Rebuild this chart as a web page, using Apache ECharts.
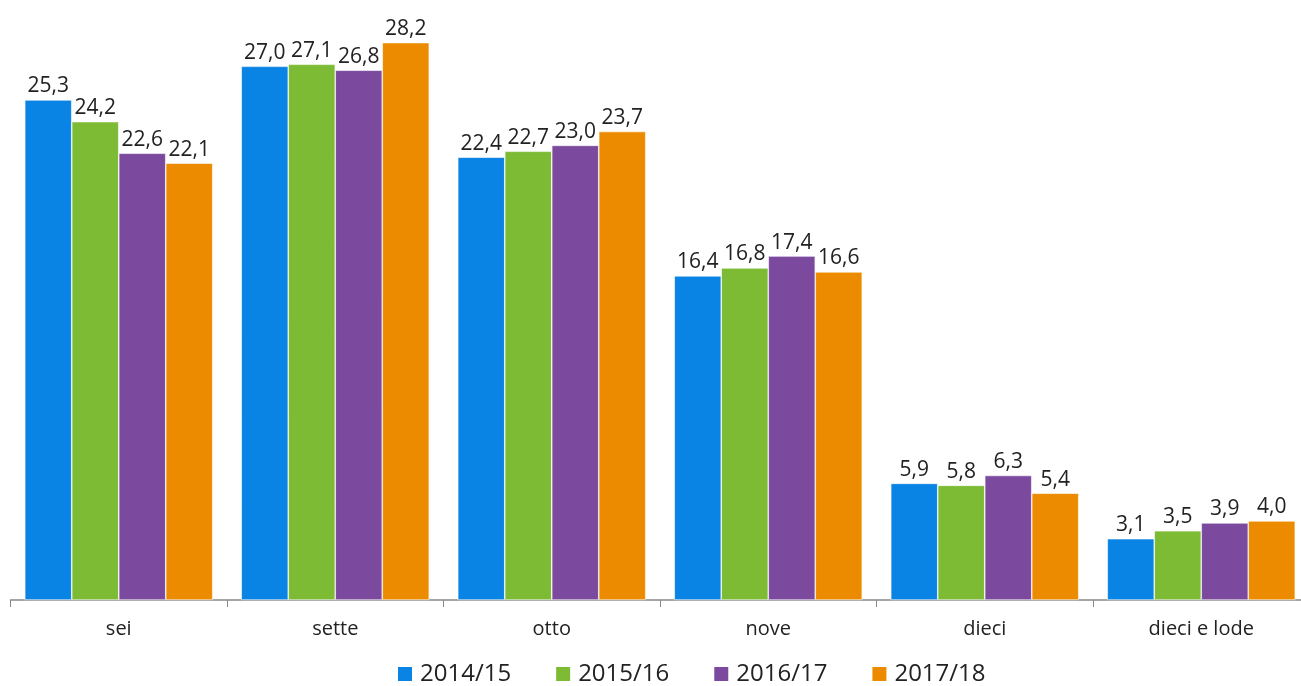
<!DOCTYPE html>
<html>
<head>
<meta charset="utf-8">
<script src="https://cdn.jsdelivr.net/npm/echarts@6/dist/echarts.min.js"></script>
<style>
  html, body { margin: 0; padding: 0; background: #fff; }
  #chart { width: 1301px; height: 686px; }
</style>
</head>
<body>
<div id="chart"></div>
<script>
const categories = ['sei', 'sette', 'otto', 'nove', 'dieci', 'dieci e lode']
const years = ['2014/15', '2015/16', '2016/17', '2017/18']
const v2014 = [25.3, 27.0, 22.4, 16.4, 5.9, 3.1]
const v2015 = [24.2, 27.1, 22.7, 16.8, 5.8, 3.5]
const v2016 = [22.6, 26.8, 23.0, 17.4, 6.3, 3.9]
const v2017 = [22.1, 28.2, 23.7, 16.6, 5.4, 4.0]
const colors = ['#0a84e4', '#7cbb33', '#7b4a9f', '#ec8b00']

const font = 'Open Sans, Noto Sans, sans-serif'
const chart = echarts.init(document.getElementById('chart'))

const makeSeries = (name, data, i) => ({
  name: name,
  type: 'bar',
  data: data,
  barWidth: 47,
  barGap: '0%',
  itemStyle: { color: colors[i], borderColor: '#fff', borderWidth: 0.6 },
  label: {
    show: true,
    position: 'top',
    distance: 3,
    color: '#222',
    fontSize: 21,
    fontFamily: font,
    formatter: p => p.value.toFixed(1).replace('.', ',')
  }
})

chart.setOption({
  animation: false,
  color: colors,
  grid: { left: 10.5, width: 1299, top: 7, bottom: 86, outerBoundsMode: 'none' },
  legend: {
    top: 657,
    left: 391,
    itemWidth: 16,
    itemHeight: 16,
    itemGap: 43,
    icon: 'rect',
    textStyle: { fontSize: 24, color: '#222', fontFamily: font, padding: [0, 0, 0, 2] },
    data: years
  },
  xAxis: {
    type: 'category',
    data: categories,
    axisLine: { lineStyle: { color: '#888', width: 1.5 } },
    axisTick: { show: true, length: 7, lineStyle: { color: '#888' } },
    axisLabel: { fontSize: 20, color: '#222', fontFamily: font, margin: 19 }
  },
  yAxis: {
    type: 'value',
    min: 0,
    max: 30,
    show: false,
    splitLine: { show: false }
  },
  series: [
    makeSeries(years[0], v2014, 0),
    makeSeries(years[1], v2015, 1),
    makeSeries(years[2], v2016, 2),
    makeSeries(years[3], v2017, 3)
  ]
})
</script>
</body>
</html>
